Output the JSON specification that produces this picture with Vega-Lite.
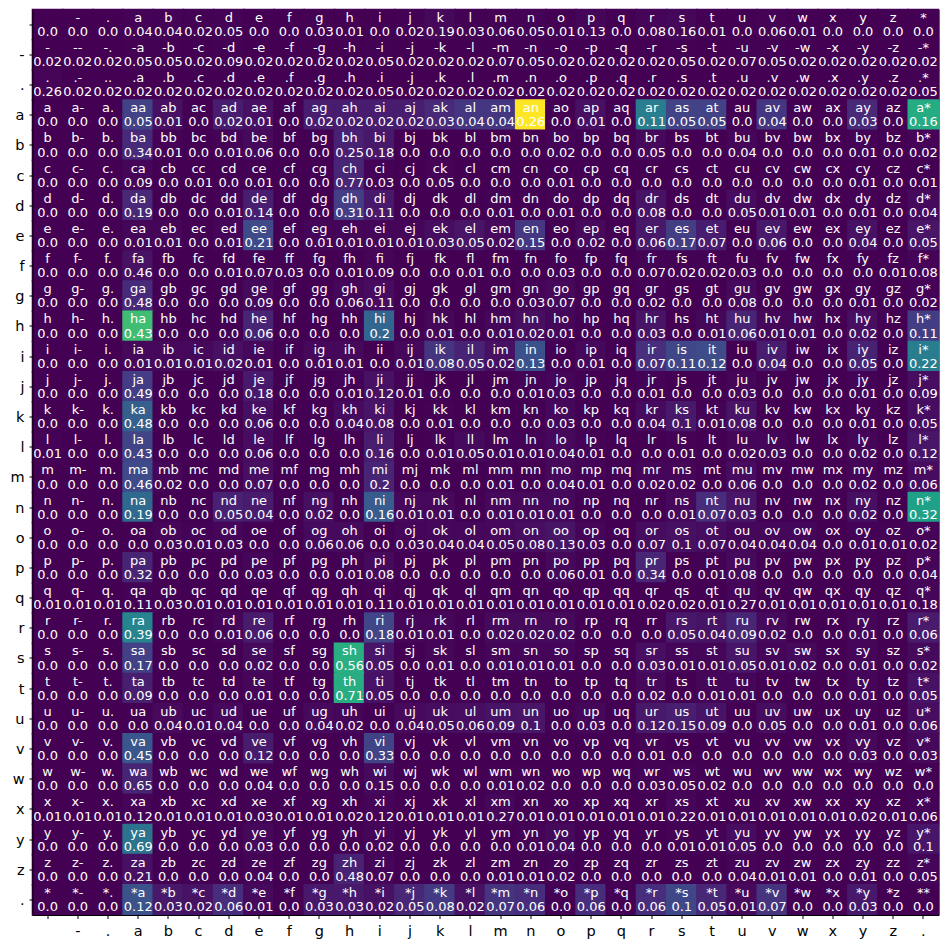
{
"$schema":"https://vega.github.io/schema/vega-lite/v6.json",
"width":906,"height":905.5,
"autosize":{"type":"none"},
"padding":{"left":32.5,"top":9.5,"right":8.5,"bottom":33},
"data":{"values":[
{"r":" ","c":" ","t":"  ","p":0,"n":0},{"r":" ","c":"-","t":" -","p":0,"n":0},{"r":" ","c":".","t":" .","p":0,"n":0},{"r":" ","c":"a","t":" a","p":0.04,"n":4},{"r":" ","c":"b","t":" b","p":0.04,"n":4},{"r":" ","c":"c","t":" c","p":0.02,"n":2},{"r":" ","c":"d","t":" d","p":0.05,"n":5},{"r":" ","c":"e","t":" e","p":0,"n":0},{"r":" ","c":"f","t":" f","p":0,"n":0},{"r":" ","c":"g","t":" g","p":0.03,"n":3},{"r":" ","c":"h","t":" h","p":0.01,"n":1},{"r":" ","c":"i","t":" i","p":0,"n":0},{"r":" ","c":"j","t":" j","p":0.02,"n":2},{"r":" ","c":"k","t":" k","p":0.19,"n":19},{"r":" ","c":"l","t":" l","p":0.03,"n":3},{"r":" ","c":"m","t":" m","p":0.06,"n":6},{"r":" ","c":"n","t":" n","p":0.05,"n":5},{"r":" ","c":"o","t":" o","p":0.01,"n":1},{"r":" ","c":"p","t":" p","p":0.13,"n":13},{"r":" ","c":"q","t":" q","p":0,"n":0},{"r":" ","c":"r","t":" r","p":0.08,"n":8},{"r":" ","c":"s","t":" s","p":0.16,"n":16},{"r":" ","c":"t","t":" t","p":0.01,"n":1},{"r":" ","c":"u","t":" u","p":0,"n":0},{"r":" ","c":"v","t":" v","p":0.06,"n":6},{"r":" ","c":"w","t":" w","p":0.01,"n":1},{"r":" ","c":"x","t":" x","p":0,"n":0},{"r":" ","c":"y","t":" y","p":0,"n":0},{"r":" ","c":"z","t":" z","p":0,"n":0},{"r":" ","c":"*","t":" *","p":0,"n":0},
{"r":"-","c":" ","t":"- ","p":0.02,"n":1},{"r":"-","c":"-","t":"--","p":0.02,"n":1},{"r":"-","c":".","t":"-.","p":0.02,"n":1},{"r":"-","c":"a","t":"-a","p":0.05,"n":2},{"r":"-","c":"b","t":"-b","p":0.05,"n":2},{"r":"-","c":"c","t":"-c","p":0.02,"n":1},{"r":"-","c":"d","t":"-d","p":0.09,"n":3},{"r":"-","c":"e","t":"-e","p":0.02,"n":1},{"r":"-","c":"f","t":"-f","p":0.02,"n":1},{"r":"-","c":"g","t":"-g","p":0.02,"n":1},{"r":"-","c":"h","t":"-h","p":0.02,"n":1},{"r":"-","c":"i","t":"-i","p":0.05,"n":2},{"r":"-","c":"j","t":"-j","p":0.02,"n":1},{"r":"-","c":"k","t":"-k","p":0.02,"n":1},{"r":"-","c":"l","t":"-l","p":0.02,"n":1},{"r":"-","c":"m","t":"-m","p":0.07,"n":2},{"r":"-","c":"n","t":"-n","p":0.05,"n":2},{"r":"-","c":"o","t":"-o","p":0.02,"n":1},{"r":"-","c":"p","t":"-p","p":0.02,"n":1},{"r":"-","c":"q","t":"-q","p":0.02,"n":1},{"r":"-","c":"r","t":"-r","p":0.02,"n":1},{"r":"-","c":"s","t":"-s","p":0.05,"n":2},{"r":"-","c":"t","t":"-t","p":0.02,"n":1},{"r":"-","c":"u","t":"-u","p":0.07,"n":2},{"r":"-","c":"v","t":"-v","p":0.05,"n":2},{"r":"-","c":"w","t":"-w","p":0.02,"n":1},{"r":"-","c":"x","t":"-x","p":0.02,"n":1},{"r":"-","c":"y","t":"-y","p":0.02,"n":1},{"r":"-","c":"z","t":"-z","p":0.02,"n":1},{"r":"-","c":"*","t":"-*","p":0.02,"n":1},
{"r":".","c":" ","t":". ","p":0.26,"n":8},{"r":".","c":"-","t":".-","p":0.02,"n":1},{"r":".","c":".","t":"..","p":0.02,"n":1},{"r":".","c":"a","t":".a","p":0.02,"n":1},{"r":".","c":"b","t":".b","p":0.02,"n":1},{"r":".","c":"c","t":".c","p":0.02,"n":1},{"r":".","c":"d","t":".d","p":0.02,"n":1},{"r":".","c":"e","t":".e","p":0.02,"n":1},{"r":".","c":"f","t":".f","p":0.02,"n":1},{"r":".","c":"g","t":".g","p":0.02,"n":1},{"r":".","c":"h","t":".h","p":0.02,"n":1},{"r":".","c":"i","t":".i","p":0.05,"n":2},{"r":".","c":"j","t":".j","p":0.02,"n":1},{"r":".","c":"k","t":".k","p":0.02,"n":1},{"r":".","c":"l","t":".l","p":0.02,"n":1},{"r":".","c":"m","t":".m","p":0.02,"n":1},{"r":".","c":"n","t":".n","p":0.02,"n":1},{"r":".","c":"o","t":".o","p":0.02,"n":1},{"r":".","c":"p","t":".p","p":0.02,"n":1},{"r":".","c":"q","t":".q","p":0.02,"n":1},{"r":".","c":"r","t":".r","p":0.02,"n":1},{"r":".","c":"s","t":".s","p":0.02,"n":1},{"r":".","c":"t","t":".t","p":0.02,"n":1},{"r":".","c":"u","t":".u","p":0.02,"n":1},{"r":".","c":"v","t":".v","p":0.02,"n":1},{"r":".","c":"w","t":".w","p":0.02,"n":1},{"r":".","c":"x","t":".x","p":0.02,"n":1},{"r":".","c":"y","t":".y","p":0.02,"n":1},{"r":".","c":"z","t":".z","p":0.02,"n":1},{"r":".","c":"*","t":".*","p":0.05,"n":2},
{"r":"a","c":" ","t":"a ","p":0,"n":0},{"r":"a","c":"-","t":"a-","p":0,"n":0},{"r":"a","c":".","t":"a.","p":0,"n":0},{"r":"a","c":"a","t":"aa","p":0.05,"n":192},{"r":"a","c":"b","t":"ab","p":0.01,"n":38},{"r":"a","c":"c","t":"ac","p":0,"n":0},{"r":"a","c":"d","t":"ad","p":0.02,"n":77},{"r":"a","c":"e","t":"ae","p":0.01,"n":38},{"r":"a","c":"f","t":"af","p":0,"n":0},{"r":"a","c":"g","t":"ag","p":0.02,"n":77},{"r":"a","c":"h","t":"ah","p":0.02,"n":77},{"r":"a","c":"i","t":"ai","p":0.02,"n":77},{"r":"a","c":"j","t":"aj","p":0.02,"n":77},{"r":"a","c":"k","t":"ak","p":0.03,"n":115},{"r":"a","c":"l","t":"al","p":0.04,"n":154},{"r":"a","c":"m","t":"am","p":0.04,"n":154},{"r":"a","c":"n","t":"an","p":0.26,"n":1000},{"r":"a","c":"o","t":"ao","p":0,"n":0},{"r":"a","c":"p","t":"ap","p":0.01,"n":38},{"r":"a","c":"q","t":"aq","p":0,"n":0},{"r":"a","c":"r","t":"ar","p":0.11,"n":423},{"r":"a","c":"s","t":"as","p":0.05,"n":192},{"r":"a","c":"t","t":"at","p":0.05,"n":192},{"r":"a","c":"u","t":"au","p":0,"n":0},{"r":"a","c":"v","t":"av","p":0.04,"n":154},{"r":"a","c":"w","t":"aw","p":0,"n":0},{"r":"a","c":"x","t":"ax","p":0,"n":0},{"r":"a","c":"y","t":"ay","p":0.03,"n":115},{"r":"a","c":"z","t":"az","p":0,"n":0},{"r":"a","c":"*","t":"a*","p":0.16,"n":615},
{"r":"b","c":" ","t":"b ","p":0,"n":0},{"r":"b","c":"-","t":"b-","p":0,"n":0},{"r":"b","c":".","t":"b.","p":0,"n":0},{"r":"b","c":"a","t":"ba","p":0.34,"n":119},{"r":"b","c":"b","t":"bb","p":0.01,"n":4},{"r":"b","c":"c","t":"bc","p":0,"n":0},{"r":"b","c":"d","t":"bd","p":0.01,"n":4},{"r":"b","c":"e","t":"be","p":0.06,"n":21},{"r":"b","c":"f","t":"bf","p":0,"n":0},{"r":"b","c":"g","t":"bg","p":0,"n":0},{"r":"b","c":"h","t":"bh","p":0.25,"n":88},{"r":"b","c":"i","t":"bi","p":0.18,"n":63},{"r":"b","c":"j","t":"bj","p":0,"n":0},{"r":"b","c":"k","t":"bk","p":0,"n":0},{"r":"b","c":"l","t":"bl","p":0,"n":0},{"r":"b","c":"m","t":"bm","p":0,"n":0},{"r":"b","c":"n","t":"bn","p":0,"n":0},{"r":"b","c":"o","t":"bo","p":0.02,"n":7},{"r":"b","c":"p","t":"bp","p":0,"n":0},{"r":"b","c":"q","t":"bq","p":0,"n":0},{"r":"b","c":"r","t":"br","p":0.05,"n":18},{"r":"b","c":"s","t":"bs","p":0,"n":0},{"r":"b","c":"t","t":"bt","p":0,"n":0},{"r":"b","c":"u","t":"bu","p":0.04,"n":14},{"r":"b","c":"v","t":"bv","p":0,"n":0},{"r":"b","c":"w","t":"bw","p":0,"n":0},{"r":"b","c":"x","t":"bx","p":0,"n":0},{"r":"b","c":"y","t":"by","p":0.01,"n":4},{"r":"b","c":"z","t":"bz","p":0,"n":0},{"r":"b","c":"*","t":"b*","p":0.02,"n":7},
{"r":"c","c":" ","t":"c ","p":0,"n":0},{"r":"c","c":"-","t":"c-","p":0,"n":0},{"r":"c","c":".","t":"c.","p":0,"n":0},{"r":"c","c":"a","t":"ca","p":0.09,"n":12},{"r":"c","c":"b","t":"cb","p":0,"n":0},{"r":"c","c":"c","t":"cc","p":0.01,"n":1},{"r":"c","c":"d","t":"cd","p":0,"n":0},{"r":"c","c":"e","t":"ce","p":0.01,"n":1},{"r":"c","c":"f","t":"cf","p":0,"n":0},{"r":"c","c":"g","t":"cg","p":0,"n":0},{"r":"c","c":"h","t":"ch","p":0.77,"n":100},{"r":"c","c":"i","t":"ci","p":0.03,"n":4},{"r":"c","c":"j","t":"cj","p":0,"n":0},{"r":"c","c":"k","t":"ck","p":0.05,"n":7},{"r":"c","c":"l","t":"cl","p":0,"n":0},{"r":"c","c":"m","t":"cm","p":0,"n":0},{"r":"c","c":"n","t":"cn","p":0,"n":0},{"r":"c","c":"o","t":"co","p":0.01,"n":1},{"r":"c","c":"p","t":"cp","p":0,"n":0},{"r":"c","c":"q","t":"cq","p":0,"n":0},{"r":"c","c":"r","t":"cr","p":0,"n":0},{"r":"c","c":"s","t":"cs","p":0,"n":0},{"r":"c","c":"t","t":"ct","p":0,"n":0},{"r":"c","c":"u","t":"cu","p":0,"n":0},{"r":"c","c":"v","t":"cv","p":0,"n":0},{"r":"c","c":"w","t":"cw","p":0,"n":0},{"r":"c","c":"x","t":"cx","p":0,"n":0},{"r":"c","c":"y","t":"cy","p":0.01,"n":1},{"r":"c","c":"z","t":"cz","p":0,"n":0},{"r":"c","c":"*","t":"c*","p":0.01,"n":1},
{"r":"d","c":" ","t":"d ","p":0,"n":0},{"r":"d","c":"-","t":"d-","p":0,"n":0},{"r":"d","c":".","t":"d.","p":0,"n":0},{"r":"d","c":"a","t":"da","p":0.19,"n":110},{"r":"d","c":"b","t":"db","p":0,"n":0},{"r":"d","c":"c","t":"dc","p":0,"n":0},{"r":"d","c":"d","t":"dd","p":0.01,"n":6},{"r":"d","c":"e","t":"de","p":0.14,"n":81},{"r":"d","c":"f","t":"df","p":0,"n":0},{"r":"d","c":"g","t":"dg","p":0,"n":0},{"r":"d","c":"h","t":"dh","p":0.31,"n":180},{"r":"d","c":"i","t":"di","p":0.11,"n":64},{"r":"d","c":"j","t":"dj","p":0,"n":0},{"r":"d","c":"k","t":"dk","p":0,"n":0},{"r":"d","c":"l","t":"dl","p":0,"n":0},{"r":"d","c":"m","t":"dm","p":0.01,"n":6},{"r":"d","c":"n","t":"dn","p":0,"n":0},{"r":"d","c":"o","t":"do","p":0.01,"n":6},{"r":"d","c":"p","t":"dp","p":0,"n":0},{"r":"d","c":"q","t":"dq","p":0,"n":0},{"r":"d","c":"r","t":"dr","p":0.08,"n":46},{"r":"d","c":"s","t":"ds","p":0,"n":0},{"r":"d","c":"t","t":"dt","p":0,"n":0},{"r":"d","c":"u","t":"du","p":0.05,"n":29},{"r":"d","c":"v","t":"dv","p":0.01,"n":6},{"r":"d","c":"w","t":"dw","p":0.01,"n":6},{"r":"d","c":"x","t":"dx","p":0,"n":0},{"r":"d","c":"y","t":"dy","p":0.01,"n":6},{"r":"d","c":"z","t":"dz","p":0,"n":0},{"r":"d","c":"*","t":"d*","p":0.04,"n":23},
{"r":"e","c":" ","t":"e ","p":0,"n":0},{"r":"e","c":"-","t":"e-","p":0,"n":0},{"r":"e","c":".","t":"e.","p":0,"n":0},{"r":"e","c":"a","t":"ea","p":0.01,"n":11},{"r":"e","c":"b","t":"eb","p":0.01,"n":11},{"r":"e","c":"c","t":"ec","p":0,"n":0},{"r":"e","c":"d","t":"ed","p":0.01,"n":11},{"r":"e","c":"e","t":"ee","p":0.21,"n":220},{"r":"e","c":"f","t":"ef","p":0,"n":0},{"r":"e","c":"g","t":"eg","p":0.01,"n":11},{"r":"e","c":"h","t":"eh","p":0.01,"n":11},{"r":"e","c":"i","t":"ei","p":0.01,"n":11},{"r":"e","c":"j","t":"ej","p":0.01,"n":11},{"r":"e","c":"k","t":"ek","p":0.03,"n":32},{"r":"e","c":"l","t":"el","p":0.05,"n":53},{"r":"e","c":"m","t":"em","p":0.02,"n":21},{"r":"e","c":"n","t":"en","p":0.15,"n":158},{"r":"e","c":"o","t":"eo","p":0,"n":0},{"r":"e","c":"p","t":"ep","p":0.02,"n":21},{"r":"e","c":"q","t":"eq","p":0,"n":0},{"r":"e","c":"r","t":"er","p":0.06,"n":63},{"r":"e","c":"s","t":"es","p":0.17,"n":179},{"r":"e","c":"t","t":"et","p":0.07,"n":74},{"r":"e","c":"u","t":"eu","p":0,"n":0},{"r":"e","c":"v","t":"ev","p":0.06,"n":63},{"r":"e","c":"w","t":"ew","p":0,"n":0},{"r":"e","c":"x","t":"ex","p":0,"n":0},{"r":"e","c":"y","t":"ey","p":0.04,"n":42},{"r":"e","c":"z","t":"ez","p":0,"n":0},{"r":"e","c":"*","t":"e*","p":0.05,"n":53},
{"r":"f","c":" ","t":"f ","p":0,"n":0},{"r":"f","c":"-","t":"f-","p":0,"n":0},{"r":"f","c":".","t":"f.","p":0,"n":0},{"r":"f","c":"a","t":"fa","p":0.46,"n":41},{"r":"f","c":"b","t":"fb","p":0,"n":0},{"r":"f","c":"c","t":"fc","p":0,"n":0},{"r":"f","c":"d","t":"fd","p":0.01,"n":1},{"r":"f","c":"e","t":"fe","p":0.07,"n":6},{"r":"f","c":"f","t":"ff","p":0.03,"n":3},{"r":"f","c":"g","t":"fg","p":0,"n":0},{"r":"f","c":"h","t":"fh","p":0.01,"n":1},{"r":"f","c":"i","t":"fi","p":0.09,"n":8},{"r":"f","c":"j","t":"fj","p":0,"n":0},{"r":"f","c":"k","t":"fk","p":0,"n":0},{"r":"f","c":"l","t":"fl","p":0.01,"n":1},{"r":"f","c":"m","t":"fm","p":0,"n":0},{"r":"f","c":"n","t":"fn","p":0,"n":0},{"r":"f","c":"o","t":"fo","p":0.03,"n":3},{"r":"f","c":"p","t":"fp","p":0,"n":0},{"r":"f","c":"q","t":"fq","p":0,"n":0},{"r":"f","c":"r","t":"fr","p":0.07,"n":6},{"r":"f","c":"s","t":"fs","p":0.02,"n":2},{"r":"f","c":"t","t":"ft","p":0.02,"n":2},{"r":"f","c":"u","t":"fu","p":0.03,"n":3},{"r":"f","c":"v","t":"fv","p":0,"n":0},{"r":"f","c":"w","t":"fw","p":0,"n":0},{"r":"f","c":"x","t":"fx","p":0,"n":0},{"r":"f","c":"y","t":"fy","p":0,"n":0},{"r":"f","c":"z","t":"fz","p":0.01,"n":1},{"r":"f","c":"*","t":"f*","p":0.08,"n":7},
{"r":"g","c":" ","t":"g ","p":0,"n":0},{"r":"g","c":"-","t":"g-","p":0,"n":0},{"r":"g","c":".","t":"g.","p":0,"n":0},{"r":"g","c":"a","t":"ga","p":0.48,"n":120},{"r":"g","c":"b","t":"gb","p":0,"n":0},{"r":"g","c":"c","t":"gc","p":0,"n":0},{"r":"g","c":"d","t":"gd","p":0,"n":0},{"r":"g","c":"e","t":"ge","p":0.09,"n":23},{"r":"g","c":"f","t":"gf","p":0,"n":0},{"r":"g","c":"g","t":"gg","p":0,"n":0},{"r":"g","c":"h","t":"gh","p":0.06,"n":15},{"r":"g","c":"i","t":"gi","p":0.11,"n":28},{"r":"g","c":"j","t":"gj","p":0,"n":0},{"r":"g","c":"k","t":"gk","p":0,"n":0},{"r":"g","c":"l","t":"gl","p":0,"n":0},{"r":"g","c":"m","t":"gm","p":0,"n":0},{"r":"g","c":"n","t":"gn","p":0.03,"n":8},{"r":"g","c":"o","t":"go","p":0.07,"n":18},{"r":"g","c":"p","t":"gp","p":0,"n":0},{"r":"g","c":"q","t":"gq","p":0,"n":0},{"r":"g","c":"r","t":"gr","p":0.02,"n":5},{"r":"g","c":"s","t":"gs","p":0,"n":0},{"r":"g","c":"t","t":"gt","p":0,"n":0},{"r":"g","c":"u","t":"gu","p":0.08,"n":20},{"r":"g","c":"v","t":"gv","p":0,"n":0},{"r":"g","c":"w","t":"gw","p":0,"n":0},{"r":"g","c":"x","t":"gx","p":0,"n":0},{"r":"g","c":"y","t":"gy","p":0.01,"n":3},{"r":"g","c":"z","t":"gz","p":0,"n":0},{"r":"g","c":"*","t":"g*","p":0.02,"n":5},
{"r":"h","c":" ","t":"h ","p":0,"n":0},{"r":"h","c":"-","t":"h-","p":0,"n":0},{"r":"h","c":".","t":"h.","p":0,"n":0},{"r":"h","c":"a","t":"ha","p":0.43,"n":690},{"r":"h","c":"b","t":"hb","p":0,"n":0},{"r":"h","c":"c","t":"hc","p":0,"n":0},{"r":"h","c":"d","t":"hd","p":0,"n":0},{"r":"h","c":"e","t":"he","p":0.06,"n":98},{"r":"h","c":"f","t":"hf","p":0,"n":0},{"r":"h","c":"g","t":"hg","p":0,"n":0},{"r":"h","c":"h","t":"hh","p":0,"n":0},{"r":"h","c":"i","t":"hi","p":0.2,"n":326},{"r":"h","c":"j","t":"hj","p":0,"n":0},{"r":"h","c":"k","t":"hk","p":0.01,"n":16},{"r":"h","c":"l","t":"hl","p":0,"n":0},{"r":"h","c":"m","t":"hm","p":0.01,"n":16},{"r":"h","c":"n","t":"hn","p":0.02,"n":33},{"r":"h","c":"o","t":"ho","p":0.01,"n":16},{"r":"h","c":"p","t":"hp","p":0,"n":0},{"r":"h","c":"q","t":"hq","p":0,"n":0},{"r":"h","c":"r","t":"hr","p":0.03,"n":49},{"r":"h","c":"s","t":"hs","p":0,"n":0},{"r":"h","c":"t","t":"ht","p":0.01,"n":16},{"r":"h","c":"u","t":"hu","p":0.06,"n":98},{"r":"h","c":"v","t":"hv","p":0.01,"n":16},{"r":"h","c":"w","t":"hw","p":0.01,"n":16},{"r":"h","c":"x","t":"hx","p":0,"n":0},{"r":"h","c":"y","t":"hy","p":0.02,"n":33},{"r":"h","c":"z","t":"hz","p":0,"n":0},{"r":"h","c":"*","t":"h*","p":0.11,"n":179},
{"r":"i","c":" ","t":"i ","p":0,"n":0},{"r":"i","c":"-","t":"i-","p":0,"n":0},{"r":"i","c":".","t":"i.","p":0,"n":0},{"r":"i","c":"a","t":"ia","p":0.01,"n":19},{"r":"i","c":"b","t":"ib","p":0.01,"n":19},{"r":"i","c":"c","t":"ic","p":0.01,"n":19},{"r":"i","c":"d","t":"id","p":0.02,"n":38},{"r":"i","c":"e","t":"ie","p":0.01,"n":19},{"r":"i","c":"f","t":"if","p":0,"n":0},{"r":"i","c":"g","t":"ig","p":0.01,"n":19},{"r":"i","c":"h","t":"ih","p":0.01,"n":19},{"r":"i","c":"i","t":"ii","p":0,"n":0},{"r":"i","c":"j","t":"ij","p":0.01,"n":19},{"r":"i","c":"k","t":"ik","p":0.08,"n":152},{"r":"i","c":"l","t":"il","p":0.05,"n":95},{"r":"i","c":"m","t":"im","p":0.02,"n":38},{"r":"i","c":"n","t":"in","p":0.13,"n":247},{"r":"i","c":"o","t":"io","p":0,"n":0},{"r":"i","c":"p","t":"ip","p":0.01,"n":19},{"r":"i","c":"q","t":"iq","p":0,"n":0},{"r":"i","c":"r","t":"ir","p":0.07,"n":133},{"r":"i","c":"s","t":"is","p":0.11,"n":209},{"r":"i","c":"t","t":"it","p":0.12,"n":228},{"r":"i","c":"u","t":"iu","p":0,"n":0},{"r":"i","c":"v","t":"iv","p":0.04,"n":76},{"r":"i","c":"w","t":"iw","p":0,"n":0},{"r":"i","c":"x","t":"ix","p":0,"n":0},{"r":"i","c":"y","t":"iy","p":0.05,"n":95},{"r":"i","c":"z","t":"iz","p":0,"n":0},{"r":"i","c":"*","t":"i*","p":0.22,"n":418},
{"r":"j","c":" ","t":"j ","p":0,"n":0},{"r":"j","c":"-","t":"j-","p":0,"n":0},{"r":"j","c":".","t":"j.","p":0,"n":0},{"r":"j","c":"a","t":"ja","p":0.49,"n":172},{"r":"j","c":"b","t":"jb","p":0,"n":0},{"r":"j","c":"c","t":"jc","p":0,"n":0},{"r":"j","c":"d","t":"jd","p":0,"n":0},{"r":"j","c":"e","t":"je","p":0.18,"n":63},{"r":"j","c":"f","t":"jf","p":0,"n":0},{"r":"j","c":"g","t":"jg","p":0,"n":0},{"r":"j","c":"h","t":"jh","p":0.01,"n":4},{"r":"j","c":"i","t":"ji","p":0.12,"n":42},{"r":"j","c":"j","t":"jj","p":0.01,"n":4},{"r":"j","c":"k","t":"jk","p":0,"n":0},{"r":"j","c":"l","t":"jl","p":0,"n":0},{"r":"j","c":"m","t":"jm","p":0,"n":0},{"r":"j","c":"n","t":"jn","p":0.01,"n":4},{"r":"j","c":"o","t":"jo","p":0.03,"n":11},{"r":"j","c":"p","t":"jp","p":0,"n":0},{"r":"j","c":"q","t":"jq","p":0,"n":0},{"r":"j","c":"r","t":"jr","p":0.01,"n":4},{"r":"j","c":"s","t":"js","p":0,"n":0},{"r":"j","c":"t","t":"jt","p":0,"n":0},{"r":"j","c":"u","t":"ju","p":0.03,"n":11},{"r":"j","c":"v","t":"jv","p":0,"n":0},{"r":"j","c":"w","t":"jw","p":0,"n":0},{"r":"j","c":"x","t":"jx","p":0,"n":0},{"r":"j","c":"y","t":"jy","p":0.01,"n":4},{"r":"j","c":"z","t":"jz","p":0,"n":0},{"r":"j","c":"*","t":"j*","p":0.09,"n":32},
{"r":"k","c":" ","t":"k ","p":0,"n":0},{"r":"k","c":"-","t":"k-","p":0,"n":0},{"r":"k","c":".","t":"k.","p":0,"n":0},{"r":"k","c":"a","t":"ka","p":0.48,"n":298},{"r":"k","c":"b","t":"kb","p":0,"n":0},{"r":"k","c":"c","t":"kc","p":0,"n":0},{"r":"k","c":"d","t":"kd","p":0,"n":0},{"r":"k","c":"e","t":"ke","p":0.06,"n":37},{"r":"k","c":"f","t":"kf","p":0,"n":0},{"r":"k","c":"g","t":"kg","p":0,"n":0},{"r":"k","c":"h","t":"kh","p":0.04,"n":25},{"r":"k","c":"i","t":"ki","p":0.08,"n":50},{"r":"k","c":"j","t":"kj","p":0,"n":0},{"r":"k","c":"k","t":"kk","p":0.01,"n":6},{"r":"k","c":"l","t":"kl","p":0,"n":0},{"r":"k","c":"m","t":"km","p":0,"n":0},{"r":"k","c":"n","t":"kn","p":0,"n":0},{"r":"k","c":"o","t":"ko","p":0.03,"n":19},{"r":"k","c":"p","t":"kp","p":0,"n":0},{"r":"k","c":"q","t":"kq","p":0,"n":0},{"r":"k","c":"r","t":"kr","p":0.04,"n":25},{"r":"k","c":"s","t":"ks","p":0.1,"n":62},{"r":"k","c":"t","t":"kt","p":0.01,"n":6},{"r":"k","c":"u","t":"ku","p":0.08,"n":50},{"r":"k","c":"v","t":"kv","p":0,"n":0},{"r":"k","c":"w","t":"kw","p":0,"n":0},{"r":"k","c":"x","t":"kx","p":0,"n":0},{"r":"k","c":"y","t":"ky","p":0.01,"n":6},{"r":"k","c":"z","t":"kz","p":0,"n":0},{"r":"k","c":"*","t":"k*","p":0.05,"n":31},
{"r":"l","c":" ","t":"l ","p":0.01,"n":5},{"r":"l","c":"-","t":"l-","p":0,"n":0},{"r":"l","c":".","t":"l.","p":0,"n":0},{"r":"l","c":"a","t":"la","p":0.43,"n":202},{"r":"l","c":"b","t":"lb","p":0,"n":0},{"r":"l","c":"c","t":"lc","p":0,"n":0},{"r":"l","c":"d","t":"ld","p":0,"n":0},{"r":"l","c":"e","t":"le","p":0.06,"n":28},{"r":"l","c":"f","t":"lf","p":0,"n":0},{"r":"l","c":"g","t":"lg","p":0,"n":0},{"r":"l","c":"h","t":"lh","p":0,"n":0},{"r":"l","c":"i","t":"li","p":0.16,"n":75},{"r":"l","c":"j","t":"lj","p":0,"n":0},{"r":"l","c":"k","t":"lk","p":0.01,"n":5},{"r":"l","c":"l","t":"ll","p":0.05,"n":24},{"r":"l","c":"m","t":"lm","p":0.01,"n":5},{"r":"l","c":"n","t":"ln","p":0.01,"n":5},{"r":"l","c":"o","t":"lo","p":0.04,"n":19},{"r":"l","c":"p","t":"lp","p":0.01,"n":5},{"r":"l","c":"q","t":"lq","p":0,"n":0},{"r":"l","c":"r","t":"lr","p":0,"n":0},{"r":"l","c":"s","t":"ls","p":0.01,"n":5},{"r":"l","c":"t","t":"lt","p":0,"n":0},{"r":"l","c":"u","t":"lu","p":0.02,"n":9},{"r":"l","c":"v","t":"lv","p":0.03,"n":14},{"r":"l","c":"w","t":"lw","p":0,"n":0},{"r":"l","c":"x","t":"lx","p":0,"n":0},{"r":"l","c":"y","t":"ly","p":0.02,"n":9},{"r":"l","c":"z","t":"lz","p":0,"n":0},{"r":"l","c":"*","t":"l*","p":0.12,"n":56},
{"r":"m","c":" ","t":"m ","p":0,"n":0},{"r":"m","c":"-","t":"m-","p":0,"n":0},{"r":"m","c":".","t":"m.","p":0,"n":0},{"r":"m","c":"a","t":"ma","p":0.46,"n":221},{"r":"m","c":"b","t":"mb","p":0.02,"n":10},{"r":"m","c":"c","t":"mc","p":0,"n":0},{"r":"m","c":"d","t":"md","p":0,"n":0},{"r":"m","c":"e","t":"me","p":0.07,"n":34},{"r":"m","c":"f","t":"mf","p":0,"n":0},{"r":"m","c":"g","t":"mg","p":0,"n":0},{"r":"m","c":"h","t":"mh","p":0,"n":0},{"r":"m","c":"i","t":"mi","p":0.2,"n":96},{"r":"m","c":"j","t":"mj","p":0,"n":0},{"r":"m","c":"k","t":"mk","p":0,"n":0},{"r":"m","c":"l","t":"ml","p":0,"n":0},{"r":"m","c":"m","t":"mm","p":0.01,"n":5},{"r":"m","c":"n","t":"mn","p":0,"n":0},{"r":"m","c":"o","t":"mo","p":0.04,"n":19},{"r":"m","c":"p","t":"mp","p":0.01,"n":5},{"r":"m","c":"q","t":"mq","p":0,"n":0},{"r":"m","c":"r","t":"mr","p":0.02,"n":10},{"r":"m","c":"s","t":"ms","p":0.02,"n":10},{"r":"m","c":"t","t":"mt","p":0,"n":0},{"r":"m","c":"u","t":"mu","p":0.06,"n":29},{"r":"m","c":"v","t":"mv","p":0,"n":0},{"r":"m","c":"w","t":"mw","p":0,"n":0},{"r":"m","c":"x","t":"mx","p":0,"n":0},{"r":"m","c":"y","t":"my","p":0.02,"n":10},{"r":"m","c":"z","t":"mz","p":0,"n":0},{"r":"m","c":"*","t":"m*","p":0.06,"n":29},
{"r":"n","c":" ","t":"n ","p":0,"n":0},{"r":"n","c":"-","t":"n-","p":0,"n":0},{"r":"n","c":".","t":"n.","p":0,"n":0},{"r":"n","c":"a","t":"na","p":0.19,"n":338},{"r":"n","c":"b","t":"nb","p":0,"n":0},{"r":"n","c":"c","t":"nc","p":0,"n":0},{"r":"n","c":"d","t":"nd","p":0.05,"n":89},{"r":"n","c":"e","t":"ne","p":0.04,"n":71},{"r":"n","c":"f","t":"nf","p":0,"n":0},{"r":"n","c":"g","t":"ng","p":0.02,"n":36},{"r":"n","c":"h","t":"nh","p":0,"n":0},{"r":"n","c":"i","t":"ni","p":0.16,"n":285},{"r":"n","c":"j","t":"nj","p":0.01,"n":18},{"r":"n","c":"k","t":"nk","p":0.01,"n":18},{"r":"n","c":"l","t":"nl","p":0,"n":0},{"r":"n","c":"m","t":"nm","p":0.01,"n":18},{"r":"n","c":"n","t":"nn","p":0.01,"n":18},{"r":"n","c":"o","t":"no","p":0.01,"n":18},{"r":"n","c":"p","t":"np","p":0,"n":0},{"r":"n","c":"q","t":"nq","p":0,"n":0},{"r":"n","c":"r","t":"nr","p":0,"n":0},{"r":"n","c":"s","t":"ns","p":0.01,"n":18},{"r":"n","c":"t","t":"nt","p":0.07,"n":125},{"r":"n","c":"u","t":"nu","p":0.03,"n":53},{"r":"n","c":"v","t":"nv","p":0,"n":0},{"r":"n","c":"w","t":"nw","p":0,"n":0},{"r":"n","c":"x","t":"nx","p":0,"n":0},{"r":"n","c":"y","t":"ny","p":0.02,"n":36},{"r":"n","c":"z","t":"nz","p":0,"n":0},{"r":"n","c":"*","t":"n*","p":0.32,"n":570},
{"r":"o","c":" ","t":"o ","p":0,"n":0},{"r":"o","c":"-","t":"o-","p":0,"n":0},{"r":"o","c":".","t":"o.","p":0,"n":0},{"r":"o","c":"a","t":"oa","p":0,"n":0},{"r":"o","c":"b","t":"ob","p":0.03,"n":11},{"r":"o","c":"c","t":"oc","p":0.01,"n":4},{"r":"o","c":"d","t":"od","p":0.03,"n":11},{"r":"o","c":"e","t":"oe","p":0,"n":0},{"r":"o","c":"f","t":"of","p":0,"n":0},{"r":"o","c":"g","t":"og","p":0.06,"n":23},{"r":"o","c":"h","t":"oh","p":0.06,"n":23},{"r":"o","c":"i","t":"oi","p":0,"n":0},{"r":"o","c":"j","t":"oj","p":0.03,"n":11},{"r":"o","c":"k","t":"ok","p":0.04,"n":15},{"r":"o","c":"l","t":"ol","p":0.04,"n":15},{"r":"o","c":"m","t":"om","p":0.05,"n":19},{"r":"o","c":"n","t":"on","p":0.08,"n":30},{"r":"o","c":"o","t":"oo","p":0.13,"n":49},{"r":"o","c":"p","t":"op","p":0.03,"n":11},{"r":"o","c":"q","t":"oq","p":0,"n":0},{"r":"o","c":"r","t":"or","p":0.07,"n":27},{"r":"o","c":"s","t":"os","p":0.1,"n":38},{"r":"o","c":"t","t":"ot","p":0.07,"n":27},{"r":"o","c":"u","t":"ou","p":0.04,"n":15},{"r":"o","c":"v","t":"ov","p":0.04,"n":15},{"r":"o","c":"w","t":"ow","p":0.04,"n":15},{"r":"o","c":"x","t":"ox","p":0,"n":0},{"r":"o","c":"y","t":"oy","p":0.01,"n":4},{"r":"o","c":"z","t":"oz","p":0.01,"n":4},{"r":"o","c":"*","t":"o*","p":0.02,"n":8},
{"r":"p","c":" ","t":"p ","p":0,"n":0},{"r":"p","c":"-","t":"p-","p":0,"n":0},{"r":"p","c":".","t":"p.","p":0,"n":0},{"r":"p","c":"a","t":"pa","p":0.32,"n":96},{"r":"p","c":"b","t":"pb","p":0,"n":0},{"r":"p","c":"c","t":"pc","p":0,"n":0},{"r":"p","c":"d","t":"pd","p":0,"n":0},{"r":"p","c":"e","t":"pe","p":0.03,"n":9},{"r":"p","c":"f","t":"pf","p":0,"n":0},{"r":"p","c":"g","t":"pg","p":0,"n":0},{"r":"p","c":"h","t":"ph","p":0.01,"n":3},{"r":"p","c":"i","t":"pi","p":0.08,"n":24},{"r":"p","c":"j","t":"pj","p":0,"n":0},{"r":"p","c":"k","t":"pk","p":0,"n":0},{"r":"p","c":"l","t":"pl","p":0,"n":0},{"r":"p","c":"m","t":"pm","p":0,"n":0},{"r":"p","c":"n","t":"pn","p":0,"n":0},{"r":"p","c":"o","t":"po","p":0.06,"n":18},{"r":"p","c":"p","t":"pp","p":0.01,"n":3},{"r":"p","c":"q","t":"pq","p":0,"n":0},{"r":"p","c":"r","t":"pr","p":0.34,"n":102},{"r":"p","c":"s","t":"ps","p":0,"n":0},{"r":"p","c":"t","t":"pt","p":0.01,"n":3},{"r":"p","c":"u","t":"pu","p":0.08,"n":24},{"r":"p","c":"v","t":"pv","p":0,"n":0},{"r":"p","c":"w","t":"pw","p":0,"n":0},{"r":"p","c":"x","t":"px","p":0,"n":0},{"r":"p","c":"y","t":"py","p":0,"n":0},{"r":"p","c":"z","t":"pz","p":0,"n":0},{"r":"p","c":"*","t":"p*","p":0.04,"n":12},
{"r":"q","c":" ","t":"q ","p":0.01,"n":0.5},{"r":"q","c":"-","t":"q-","p":0.01,"n":0.5},{"r":"q","c":".","t":"q.","p":0.01,"n":0.5},{"r":"q","c":"a","t":"qa","p":0.11,"n":5.5},{"r":"q","c":"b","t":"qb","p":0.03,"n":1.5},{"r":"q","c":"c","t":"qc","p":0.01,"n":0.5},{"r":"q","c":"d","t":"qd","p":0.01,"n":0.5},{"r":"q","c":"e","t":"qe","p":0.01,"n":0.5},{"r":"q","c":"f","t":"qf","p":0.01,"n":0.5},{"r":"q","c":"g","t":"qg","p":0.01,"n":0.5},{"r":"q","c":"h","t":"qh","p":0.01,"n":0.5},{"r":"q","c":"i","t":"qi","p":0.11,"n":5.5},{"r":"q","c":"j","t":"qj","p":0.01,"n":0.5},{"r":"q","c":"k","t":"qk","p":0.01,"n":0.5},{"r":"q","c":"l","t":"ql","p":0.01,"n":0.5},{"r":"q","c":"m","t":"qm","p":0.01,"n":0.5},{"r":"q","c":"n","t":"qn","p":0.01,"n":0.5},{"r":"q","c":"o","t":"qo","p":0.01,"n":0.5},{"r":"q","c":"p","t":"qp","p":0.01,"n":0.5},{"r":"q","c":"q","t":"qq","p":0.01,"n":0.5},{"r":"q","c":"r","t":"qr","p":0.02,"n":1},{"r":"q","c":"s","t":"qs","p":0.02,"n":1},{"r":"q","c":"t","t":"qt","p":0.01,"n":0.5},{"r":"q","c":"u","t":"qu","p":0.27,"n":13.5},{"r":"q","c":"v","t":"qv","p":0.01,"n":0.5},{"r":"q","c":"w","t":"qw","p":0.01,"n":0.5},{"r":"q","c":"x","t":"qx","p":0.01,"n":0.5},{"r":"q","c":"y","t":"qy","p":0.01,"n":0.5},{"r":"q","c":"z","t":"qz","p":0.01,"n":0.5},{"r":"q","c":"*","t":"q*","p":0.18,"n":9},
{"r":"r","c":" ","t":"r ","p":0,"n":0},{"r":"r","c":"-","t":"r-","p":0,"n":0},{"r":"r","c":".","t":"r.","p":0,"n":0},{"r":"r","c":"a","t":"ra","p":0.39,"n":449},{"r":"r","c":"b","t":"rb","p":0,"n":0},{"r":"r","c":"c","t":"rc","p":0,"n":0},{"r":"r","c":"d","t":"rd","p":0.01,"n":12},{"r":"r","c":"e","t":"re","p":0.06,"n":69},{"r":"r","c":"f","t":"rf","p":0,"n":0},{"r":"r","c":"g","t":"rg","p":0,"n":0},{"r":"r","c":"h","t":"rh","p":0,"n":0},{"r":"r","c":"i","t":"ri","p":0.18,"n":207},{"r":"r","c":"j","t":"rj","p":0.01,"n":12},{"r":"r","c":"k","t":"rk","p":0.01,"n":12},{"r":"r","c":"l","t":"rl","p":0,"n":0},{"r":"r","c":"m","t":"rm","p":0.02,"n":23},{"r":"r","c":"n","t":"rn","p":0.02,"n":23},{"r":"r","c":"o","t":"ro","p":0.02,"n":23},{"r":"r","c":"p","t":"rp","p":0,"n":0},{"r":"r","c":"q","t":"rq","p":0,"n":0},{"r":"r","c":"r","t":"rr","p":0,"n":0},{"r":"r","c":"s","t":"rs","p":0.05,"n":58},{"r":"r","c":"t","t":"rt","p":0.04,"n":46},{"r":"r","c":"u","t":"ru","p":0.09,"n":104},{"r":"r","c":"v","t":"rv","p":0.02,"n":23},{"r":"r","c":"w","t":"rw","p":0,"n":0},{"r":"r","c":"x","t":"rx","p":0,"n":0},{"r":"r","c":"y","t":"ry","p":0.01,"n":12},{"r":"r","c":"z","t":"rz","p":0,"n":0},{"r":"r","c":"*","t":"r*","p":0.06,"n":69},
{"r":"s","c":" ","t":"s ","p":0,"n":0},{"r":"s","c":"-","t":"s-","p":0,"n":0},{"r":"s","c":".","t":"s.","p":0,"n":0},{"r":"s","c":"a","t":"sa","p":0.17,"n":191},{"r":"s","c":"b","t":"sb","p":0,"n":0},{"r":"s","c":"c","t":"sc","p":0,"n":0},{"r":"s","c":"d","t":"sd","p":0,"n":0},{"r":"s","c":"e","t":"se","p":0.02,"n":23},{"r":"s","c":"f","t":"sf","p":0,"n":0},{"r":"s","c":"g","t":"sg","p":0,"n":0},{"r":"s","c":"h","t":"sh","p":0.56,"n":630},{"r":"s","c":"i","t":"si","p":0.05,"n":56},{"r":"s","c":"j","t":"sj","p":0,"n":0},{"r":"s","c":"k","t":"sk","p":0.01,"n":11},{"r":"s","c":"l","t":"sl","p":0,"n":0},{"r":"s","c":"m","t":"sm","p":0.01,"n":11},{"r":"s","c":"n","t":"sn","p":0.01,"n":11},{"r":"s","c":"o","t":"so","p":0.01,"n":11},{"r":"s","c":"p","t":"sp","p":0,"n":0},{"r":"s","c":"q","t":"sq","p":0,"n":0},{"r":"s","c":"r","t":"sr","p":0.03,"n":34},{"r":"s","c":"s","t":"ss","p":0.01,"n":11},{"r":"s","c":"t","t":"st","p":0.01,"n":11},{"r":"s","c":"u","t":"su","p":0.05,"n":56},{"r":"s","c":"v","t":"sv","p":0.01,"n":11},{"r":"s","c":"w","t":"sw","p":0.02,"n":23},{"r":"s","c":"x","t":"sx","p":0,"n":0},{"r":"s","c":"y","t":"sy","p":0.01,"n":11},{"r":"s","c":"z","t":"sz","p":0,"n":0},{"r":"s","c":"*","t":"s*","p":0.02,"n":23},
{"r":"t","c":" ","t":"t ","p":0,"n":0},{"r":"t","c":"-","t":"t-","p":0,"n":0},{"r":"t","c":".","t":"t.","p":0,"n":0},{"r":"t","c":"a","t":"ta","p":0.09,"n":81},{"r":"t","c":"b","t":"tb","p":0,"n":0},{"r":"t","c":"c","t":"tc","p":0,"n":0},{"r":"t","c":"d","t":"td","p":0,"n":0},{"r":"t","c":"e","t":"te","p":0.01,"n":9},{"r":"t","c":"f","t":"tf","p":0,"n":0},{"r":"t","c":"g","t":"tg","p":0,"n":0},{"r":"t","c":"h","t":"th","p":0.71,"n":620},{"r":"t","c":"i","t":"ti","p":0.05,"n":45},{"r":"t","c":"j","t":"tj","p":0,"n":0},{"r":"t","c":"k","t":"tk","p":0,"n":0},{"r":"t","c":"l","t":"tl","p":0,"n":0},{"r":"t","c":"m","t":"tm","p":0,"n":0},{"r":"t","c":"n","t":"tn","p":0,"n":0},{"r":"t","c":"o","t":"to","p":0,"n":0},{"r":"t","c":"p","t":"tp","p":0,"n":0},{"r":"t","c":"q","t":"tq","p":0,"n":0},{"r":"t","c":"r","t":"tr","p":0.02,"n":18},{"r":"t","c":"s","t":"ts","p":0,"n":0},{"r":"t","c":"t","t":"tt","p":0.01,"n":9},{"r":"t","c":"u","t":"tu","p":0.01,"n":9},{"r":"t","c":"v","t":"tv","p":0,"n":0},{"r":"t","c":"w","t":"tw","p":0,"n":0},{"r":"t","c":"x","t":"tx","p":0,"n":0},{"r":"t","c":"y","t":"ty","p":0.01,"n":9},{"r":"t","c":"z","t":"tz","p":0,"n":0},{"r":"t","c":"*","t":"t*","p":0.05,"n":45},
{"r":"u","c":" ","t":"u ","p":0,"n":0},{"r":"u","c":"-","t":"u-","p":0,"n":0},{"r":"u","c":".","t":"u.","p":0,"n":0},{"r":"u","c":"a","t":"ua","p":0,"n":0},{"r":"u","c":"b","t":"ub","p":0.04,"n":21},{"r":"u","c":"c","t":"uc","p":0.01,"n":5},{"r":"u","c":"d","t":"ud","p":0.04,"n":21},{"r":"u","c":"e","t":"ue","p":0,"n":0},{"r":"u","c":"f","t":"uf","p":0,"n":0},{"r":"u","c":"g","t":"ug","p":0.04,"n":21},{"r":"u","c":"h","t":"uh","p":0.02,"n":11},{"r":"u","c":"i","t":"ui","p":0,"n":0},{"r":"u","c":"j","t":"uj","p":0.04,"n":21},{"r":"u","c":"k","t":"uk","p":0.05,"n":27},{"r":"u","c":"l","t":"ul","p":0.06,"n":32},{"r":"u","c":"m","t":"um","p":0.09,"n":48},{"r":"u","c":"n","t":"un","p":0.1,"n":53},{"r":"u","c":"o","t":"uo","p":0,"n":0},{"r":"u","c":"p","t":"up","p":0.03,"n":16},{"r":"u","c":"q","t":"uq","p":0,"n":0},{"r":"u","c":"r","t":"ur","p":0.12,"n":64},{"r":"u","c":"s","t":"us","p":0.15,"n":80},{"r":"u","c":"t","t":"ut","p":0.09,"n":48},{"r":"u","c":"u","t":"uu","p":0,"n":0},{"r":"u","c":"v","t":"uv","p":0.05,"n":27},{"r":"u","c":"w","t":"uw","p":0,"n":0},{"r":"u","c":"x","t":"ux","p":0,"n":0},{"r":"u","c":"y","t":"uy","p":0.01,"n":5},{"r":"u","c":"z","t":"uz","p":0,"n":0},{"r":"u","c":"*","t":"u*","p":0.06,"n":32},
{"r":"v","c":" ","t":"v ","p":0,"n":0},{"r":"v","c":"-","t":"v-","p":0,"n":0},{"r":"v","c":".","t":"v.","p":0,"n":0},{"r":"v","c":"a","t":"va","p":0.45,"n":270},{"r":"v","c":"b","t":"vb","p":0,"n":0},{"r":"v","c":"c","t":"vc","p":0,"n":0},{"r":"v","c":"d","t":"vd","p":0,"n":0},{"r":"v","c":"e","t":"ve","p":0.12,"n":72},{"r":"v","c":"f","t":"vf","p":0,"n":0},{"r":"v","c":"g","t":"vg","p":0,"n":0},{"r":"v","c":"h","t":"vh","p":0,"n":0},{"r":"v","c":"i","t":"vi","p":0.33,"n":198},{"r":"v","c":"j","t":"vj","p":0,"n":0},{"r":"v","c":"k","t":"vk","p":0,"n":0},{"r":"v","c":"l","t":"vl","p":0,"n":0},{"r":"v","c":"m","t":"vm","p":0,"n":0},{"r":"v","c":"n","t":"vn","p":0,"n":0},{"r":"v","c":"o","t":"vo","p":0,"n":0},{"r":"v","c":"p","t":"vp","p":0,"n":0},{"r":"v","c":"q","t":"vq","p":0,"n":0},{"r":"v","c":"r","t":"vr","p":0.01,"n":6},{"r":"v","c":"s","t":"vs","p":0,"n":0},{"r":"v","c":"t","t":"vt","p":0,"n":0},{"r":"v","c":"u","t":"vu","p":0,"n":0},{"r":"v","c":"v","t":"vv","p":0,"n":0},{"r":"v","c":"w","t":"vw","p":0,"n":0},{"r":"v","c":"x","t":"vx","p":0,"n":0},{"r":"v","c":"y","t":"vy","p":0.03,"n":18},{"r":"v","c":"z","t":"vz","p":0,"n":0},{"r":"v","c":"*","t":"v*","p":0.03,"n":18},
{"r":"w","c":" ","t":"w ","p":0,"n":0},{"r":"w","c":"-","t":"w-","p":0,"n":0},{"r":"w","c":".","t":"w.","p":0,"n":0},{"r":"w","c":"a","t":"wa","p":0.65,"n":98},{"r":"w","c":"b","t":"wb","p":0,"n":0},{"r":"w","c":"c","t":"wc","p":0,"n":0},{"r":"w","c":"d","t":"wd","p":0,"n":0},{"r":"w","c":"e","t":"we","p":0.04,"n":6},{"r":"w","c":"f","t":"wf","p":0,"n":0},{"r":"w","c":"g","t":"wg","p":0,"n":0},{"r":"w","c":"h","t":"wh","p":0,"n":0},{"r":"w","c":"i","t":"wi","p":0.15,"n":23},{"r":"w","c":"j","t":"wj","p":0,"n":0},{"r":"w","c":"k","t":"wk","p":0,"n":0},{"r":"w","c":"l","t":"wl","p":0,"n":0},{"r":"w","c":"m","t":"wm","p":0.01,"n":2},{"r":"w","c":"n","t":"wn","p":0.02,"n":3},{"r":"w","c":"o","t":"wo","p":0,"n":0},{"r":"w","c":"p","t":"wp","p":0,"n":0},{"r":"w","c":"q","t":"wq","p":0,"n":0},{"r":"w","c":"r","t":"wr","p":0.03,"n":5},{"r":"w","c":"s","t":"ws","p":0.05,"n":8},{"r":"w","c":"t","t":"wt","p":0.02,"n":3},{"r":"w","c":"u","t":"wu","p":0,"n":0},{"r":"w","c":"v","t":"wv","p":0,"n":0},{"r":"w","c":"w","t":"ww","p":0,"n":0},{"r":"w","c":"x","t":"wx","p":0,"n":0},{"r":"w","c":"y","t":"wy","p":0,"n":0},{"r":"w","c":"z","t":"wz","p":0,"n":0},{"r":"w","c":"*","t":"w*","p":0,"n":0},
{"r":"x","c":" ","t":"x ","p":0.01,"n":0.6},{"r":"x","c":"-","t":"x-","p":0.01,"n":0.6},{"r":"x","c":".","t":"x.","p":0.01,"n":0.6},{"r":"x","c":"a","t":"xa","p":0.12,"n":7},{"r":"x","c":"b","t":"xb","p":0.01,"n":0.6},{"r":"x","c":"c","t":"xc","p":0.01,"n":0.6},{"r":"x","c":"d","t":"xd","p":0.01,"n":0.6},{"r":"x","c":"e","t":"xe","p":0.03,"n":2},{"r":"x","c":"f","t":"xf","p":0.01,"n":0.6},{"r":"x","c":"g","t":"xg","p":0.01,"n":0.6},{"r":"x","c":"h","t":"xh","p":0.02,"n":1},{"r":"x","c":"i","t":"xi","p":0.12,"n":7},{"r":"x","c":"j","t":"xj","p":0.01,"n":0.6},{"r":"x","c":"k","t":"xk","p":0.01,"n":0.6},{"r":"x","c":"l","t":"xl","p":0.01,"n":0.6},{"r":"x","c":"m","t":"xm","p":0.27,"n":16},{"r":"x","c":"n","t":"xn","p":0.01,"n":0.6},{"r":"x","c":"o","t":"xo","p":0.01,"n":0.6},{"r":"x","c":"p","t":"xp","p":0.01,"n":0.6},{"r":"x","c":"q","t":"xq","p":0.01,"n":0.6},{"r":"x","c":"r","t":"xr","p":0.01,"n":0.6},{"r":"x","c":"s","t":"xs","p":0.22,"n":13},{"r":"x","c":"t","t":"xt","p":0.01,"n":0.6},{"r":"x","c":"u","t":"xu","p":0.01,"n":0.6},{"r":"x","c":"v","t":"xv","p":0.01,"n":0.6},{"r":"x","c":"w","t":"xw","p":0.01,"n":0.6},{"r":"x","c":"x","t":"xx","p":0.01,"n":0.6},{"r":"x","c":"y","t":"xy","p":0.02,"n":1},{"r":"x","c":"z","t":"xz","p":0.01,"n":0.6},{"r":"x","c":"*","t":"x*","p":0.06,"n":4},
{"r":"y","c":" ","t":"y ","p":0,"n":0},{"r":"y","c":"-","t":"y-","p":0,"n":0},{"r":"y","c":".","t":"y.","p":0,"n":0},{"r":"y","c":"a","t":"ya","p":0.69,"n":380},{"r":"y","c":"b","t":"yb","p":0,"n":0},{"r":"y","c":"c","t":"yc","p":0,"n":0},{"r":"y","c":"d","t":"yd","p":0,"n":0},{"r":"y","c":"e","t":"ye","p":0.03,"n":17},{"r":"y","c":"f","t":"yf","p":0,"n":0},{"r":"y","c":"g","t":"yg","p":0,"n":0},{"r":"y","c":"h","t":"yh","p":0,"n":0},{"r":"y","c":"i","t":"yi","p":0.02,"n":11},{"r":"y","c":"j","t":"yj","p":0,"n":0},{"r":"y","c":"k","t":"yk","p":0,"n":0},{"r":"y","c":"l","t":"yl","p":0,"n":0},{"r":"y","c":"m","t":"ym","p":0,"n":0},{"r":"y","c":"n","t":"yn","p":0.01,"n":6},{"r":"y","c":"o","t":"yo","p":0.04,"n":22},{"r":"y","c":"p","t":"yp","p":0,"n":0},{"r":"y","c":"q","t":"yq","p":0,"n":0},{"r":"y","c":"r","t":"yr","p":0,"n":0},{"r":"y","c":"s","t":"ys","p":0.01,"n":6},{"r":"y","c":"t","t":"yt","p":0.01,"n":6},{"r":"y","c":"u","t":"yu","p":0.05,"n":28},{"r":"y","c":"v","t":"yv","p":0,"n":0},{"r":"y","c":"w","t":"yw","p":0,"n":0},{"r":"y","c":"x","t":"yx","p":0,"n":0},{"r":"y","c":"y","t":"yy","p":0,"n":0},{"r":"y","c":"z","t":"yz","p":0,"n":0},{"r":"y","c":"*","t":"y*","p":0.1,"n":55},
{"r":"z","c":" ","t":"z ","p":0,"n":0},{"r":"z","c":"-","t":"z-","p":0,"n":0},{"r":"z","c":".","t":"z.","p":0,"n":0},{"r":"z","c":"a","t":"za","p":0.21,"n":40},{"r":"z","c":"b","t":"zb","p":0,"n":0},{"r":"z","c":"c","t":"zc","p":0,"n":0},{"r":"z","c":"d","t":"zd","p":0,"n":0},{"r":"z","c":"e","t":"ze","p":0.04,"n":8},{"r":"z","c":"f","t":"zf","p":0,"n":0},{"r":"z","c":"g","t":"zg","p":0,"n":0},{"r":"z","c":"h","t":"zh","p":0.48,"n":91},{"r":"z","c":"i","t":"zi","p":0.07,"n":13},{"r":"z","c":"j","t":"zj","p":0,"n":0},{"r":"z","c":"k","t":"zk","p":0,"n":0},{"r":"z","c":"l","t":"zl","p":0,"n":0},{"r":"z","c":"m","t":"zm","p":0.01,"n":2},{"r":"z","c":"n","t":"zn","p":0.01,"n":2},{"r":"z","c":"o","t":"zo","p":0.02,"n":4},{"r":"z","c":"p","t":"zp","p":0,"n":0},{"r":"z","c":"q","t":"zq","p":0,"n":0},{"r":"z","c":"r","t":"zr","p":0,"n":0},{"r":"z","c":"s","t":"zs","p":0,"n":0},{"r":"z","c":"t","t":"zt","p":0,"n":0},{"r":"z","c":"u","t":"zu","p":0.04,"n":8},{"r":"z","c":"v","t":"zv","p":0.01,"n":2},{"r":"z","c":"w","t":"zw","p":0.01,"n":2},{"r":"z","c":"x","t":"zx","p":0,"n":0},{"r":"z","c":"y","t":"zy","p":0.01,"n":2},{"r":"z","c":"z","t":"zz","p":0,"n":0},{"r":"z","c":"*","t":"z*","p":0.05,"n":10},
{"r":"*","c":" ","t":"* ","p":0,"n":0},{"r":"*","c":"-","t":"*-","p":0,"n":0},{"r":"*","c":".","t":"*.","p":0,"n":0},{"r":"*","c":"a","t":"*a","p":0.12,"n":252},{"r":"*","c":"b","t":"*b","p":0.03,"n":63},{"r":"*","c":"c","t":"*c","p":0.02,"n":42},{"r":"*","c":"d","t":"*d","p":0.06,"n":126},{"r":"*","c":"e","t":"*e","p":0.01,"n":21},{"r":"*","c":"f","t":"*f","p":0,"n":0},{"r":"*","c":"g","t":"*g","p":0.03,"n":63},{"r":"*","c":"h","t":"*h","p":0.03,"n":63},{"r":"*","c":"i","t":"*i","p":0.02,"n":42},{"r":"*","c":"j","t":"*j","p":0.05,"n":105},{"r":"*","c":"k","t":"*k","p":0.08,"n":168},{"r":"*","c":"l","t":"*l","p":0.02,"n":42},{"r":"*","c":"m","t":"*m","p":0.07,"n":147},{"r":"*","c":"n","t":"*n","p":0.06,"n":126},{"r":"*","c":"o","t":"*o","p":0,"n":0},{"r":"*","c":"p","t":"*p","p":0.06,"n":126},{"r":"*","c":"q","t":"*q","p":0,"n":0},{"r":"*","c":"r","t":"*r","p":0.06,"n":126},{"r":"*","c":"s","t":"*s","p":0.1,"n":210},{"r":"*","c":"t","t":"*t","p":0.05,"n":105},{"r":"*","c":"u","t":"*u","p":0.01,"n":21},{"r":"*","c":"v","t":"*v","p":0.07,"n":147},{"r":"*","c":"w","t":"*w","p":0,"n":0},{"r":"*","c":"x","t":"*x","p":0,"n":0},{"r":"*","c":"y","t":"*y","p":0.03,"n":63},{"r":"*","c":"z","t":"*z","p":0,"n":0},{"r":"*","c":"*","t":"**","p":0,"n":0}
]},
"transform":[{"calculate":"datum.p == 0 ? '0.0' : format(datum.p, '.2~f')","as":"lbl"}],
"encoding":{
"x":{"field":"c","type":"ordinal","sort":null,"scale":{"domain":[" ","-",".","a","b","c","d","e","f","g","h","i","j","k","l","m","n","o","p","q","r","s","t","u","v","w","x","y","z","*"],"paddingInner":0,"paddingOuter":0},"axis":{"orient":"bottom","title":null,"labelAngle":0,"labelExpr":"datum.value == '*' ? '.' : datum.value","labelBaseline":"alphabetic","labelPadding":17,"labelOverlap":false,"grid":false}},
"y":{"field":"r","type":"ordinal","sort":null,"scale":{"domain":[" ","-",".","a","b","c","d","e","f","g","h","i","j","k","l","m","n","o","p","q","r","s","t","u","v","w","x","y","z","*"],"paddingInner":0,"paddingOuter":0},"axis":{"title":null,"labelExpr":"datum.value == '*' ? '.' : datum.value","labelPadding":5,"labelOverlap":false,"labelOffset":1,"grid":false}}
},
"layer":[
{"mark":{"type":"rect","strokeWidth":1.6,"opacity":1,"fillOpacity":1,"strokeOpacity":1},"encoding":{"color":{"field":"n","type":"quantitative","scale":{"scheme":"viridis","domain":[0,1000]},"legend":null},"stroke":{"field":"n","type":"quantitative","scale":{"scheme":"viridis","domain":[0,1000]},"legend":null}}},
{"mark":{"type":"text","baseline":"alphabetic","dy":-3,"fontSize":13,"font":"DejaVu Sans","color":"white"},"encoding":{"text":{"field":"t"}}},
{"mark":{"type":"text","baseline":"alphabetic","dy":11.2,"fontSize":13,"font":"DejaVu Sans","color":"white"},"encoding":{"text":{"field":"lbl"}}}
],
"config":{
"view":{"stroke":"black","strokeWidth":1,"fill":"#440154"},
"axis":{"labelFont":"DejaVu Sans","labelFontSize":14.5,"labelColor":"black","tickColor":"black","tickSize":3.5,"tickWidth":1,"domainColor":"black","domainWidth":1,"grid":false}
}
}
